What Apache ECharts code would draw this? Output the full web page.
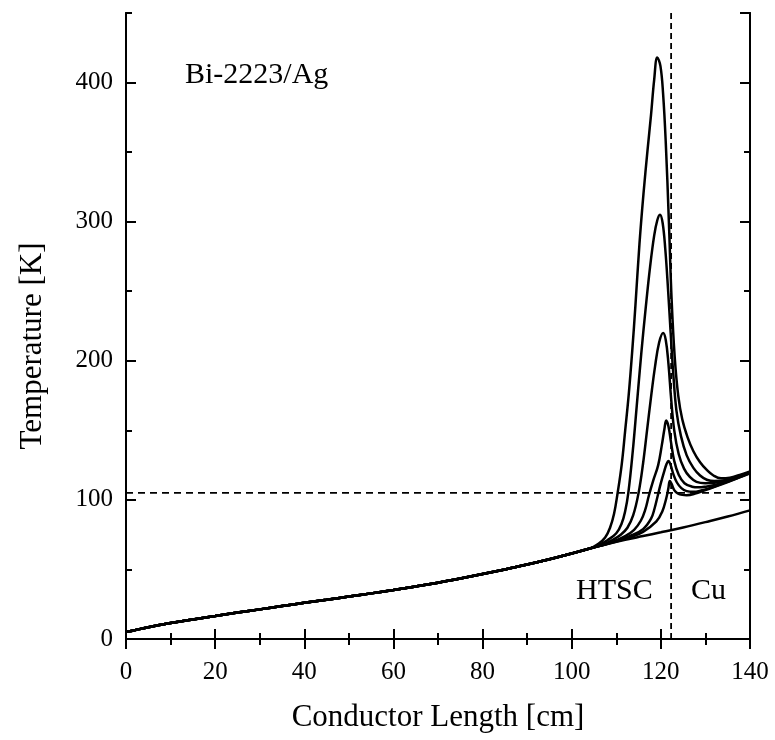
<!DOCTYPE html>
<html>
<head>
<meta charset="utf-8">
<script src="https://cdn.jsdelivr.net/npm/echarts@6/dist/echarts.min.js"></script>
<style>
html,body{margin:0;padding:0;background:#fff;}
#chart{width:775px;height:740px;}
</style>
</head>
<body>
<div id="chart"></div>
<script>
// ---- data ----
const xTicks = [0, 20, 40, 60, 80, 100, 120, 140];
const yTicks = [0, 100, 200, 300, 400];

// common part of all curves
const commonX = [0, 5, 10, 15, 20, 25, 30, 35, 40, 45, 50, 55, 60, 65, 70, 75, 80, 85, 90, 95, 100];
const commonT = [5, 8.5, 11.5, 14, 16.5, 19, 21.3, 23.7, 26, 28.2, 30.5, 32.8, 35.2, 37.8, 40.5, 43.5, 46.7, 50, 53.5, 57.3, 61.5];

// lowest curve (no quench peak)
const lowX = [104, 108, 112, 116, 120, 125, 130, 135, 140];
const lowT = [65, 68.3, 71.3, 74, 76.7, 80.2, 84, 88, 92.5];

// peaked curves
const c1X = [104, 106, 107.5, 108.6, 109.5, 110.3, 111.2, 112, 112.8, 113.6, 114.3, 115.2, 116.1, 117, 117.8, 118.5, 119.2, 119.9, 120.5, 121.1, 121.8, 122.4, 123.1, 123.9, 124.8, 126, 127.3, 128.8, 130.3, 131.8, 133.5, 135.5, 137.7, 140];
const c1T = [65, 68.5, 73, 80, 90, 105, 125, 150, 176, 208, 240, 284, 320, 351, 377, 402, 418, 412, 392, 357, 300, 245, 203, 175, 158, 145, 135, 127, 121.5, 117.5, 115.5, 116, 118, 120.5];

const c2X = [104, 106, 108, 110, 111.2, 112, 112.7, 113.7, 114.6, 115.6, 116.6, 117.6, 118.5, 119.2, 119.8, 120.4, 121, 121.6, 122.2, 122.8, 123.5, 124.5, 125.8, 127.3, 128.8, 130.3, 132, 135, 137.5, 140];
const c2T = [65, 67.5, 71, 76, 83, 92, 105, 135, 168, 205, 238, 268, 290, 301, 305, 299, 280, 252, 220, 190, 164, 146, 132, 123, 117.5, 114.5, 113.5, 114.5, 117, 120];

const c3X = [104, 107, 109, 111, 112.5, 113.8, 115, 116, 116.9, 117.8, 118.7, 119.6, 120.5, 121.1, 121.7, 122.3, 123, 124, 125.2, 126.5, 128, 130, 132, 135, 137.5, 140];
const c3T = [65, 68, 71, 75, 80, 89, 105, 126, 150, 174, 196, 213, 220, 215, 198, 173, 150, 133, 122.5, 116.5, 113, 112, 112.3, 114, 117, 120];

const c4X = [104, 108, 110, 112, 114, 115.5, 116.5, 117.3, 118.3, 119.4, 120.2, 120.8, 121.2, 121.7, 122.3, 123, 124, 125.3, 127, 128.5, 130, 132.5, 135, 137.5, 140];
const c4T = [65, 68.5, 71, 74, 78.5, 85, 93, 103, 114, 125, 139, 151, 157, 153, 141, 128, 118, 112, 109.5, 109, 109.5, 111, 113.5, 116.5, 119.5];

const c5X = [104, 110, 113, 116, 117.8, 118.6, 119.3, 120, 120.8, 121.3, 121.7, 122.2, 122.8, 123.6, 124.6, 125.8, 127.3, 129, 131.5, 134, 137, 140];
const c5T = [65, 70.5, 74, 79, 86.5, 94, 103, 112, 121, 126, 128, 125, 118.5, 112.5, 108.5, 106.3, 105.8, 106.7, 109, 112, 115.5, 119.5];

const c6X = [104, 110, 113, 116, 119, 120.3, 121.2, 121.7, 122, 122.4, 123, 123.8, 124.8, 125.8, 127.5, 130, 133, 136, 140];
const c6T = [65, 70, 73, 77, 84.5, 91.5, 101, 108.5, 113.5, 111.5, 107, 104.6, 103.6, 103.4, 104.3, 107, 110.5, 114, 119];

// reference lines
const hLineT = 105;
const vLineX = 122.3;

const xMin = 0, xMax = 140, yMin = 0, yMax = 450;

// ---- build ----
function pairs(xs, ts) { return xs.map((x, i) => [x, ts[i]]); }
const common = pairs(commonX, commonT);
const curves = [
  [lowX, lowT], [c1X, c1T], [c2X, c2T], [c3X, c3T], [c4X, c4T], [c5X, c5T], [c6X, c6T]
].map(([xs, ts]) => common.concat(pairs(xs, ts)));

const FONT = 'Liberation Serif';
const axisLineStyle = { show: true, lineStyle: { color: '#000', width: 2 } };

function xAx(pos, labels) {
  return {
    type: 'value', min: xMin, max: xMax, interval: 20, position: pos,
    axisLine: axisLineStyle,
    axisTick: { show: true, inside: true, length: 10, lineStyle: { color: '#000', width: 2 } },
    minorTick: { show: true, splitNumber: 2, length: 6, lineStyle: { color: '#000', width: 2 } },
    splitLine: { show: false }, minorSplitLine: { show: false },
    axisLabel: { show: labels, fontFamily: FONT, fontSize: 25, color: '#000', margin: 21 },
    name: labels ? 'Conductor Length [cm]' : '',
    nameLocation: 'middle', nameGap: 63,
    nameTextStyle: { fontFamily: FONT, fontSize: 31, color: '#000' }
  };
}
function yAx(pos, interval, len, labels) {
  return {
    type: 'value', min: yMin, max: yMax, interval: interval, position: pos,
    axisLine: axisLineStyle,
    axisTick: { show: true, inside: true, length: len, lineStyle: { color: '#000', width: 2 } },
    splitLine: { show: false },
    axisLabel: {
      show: labels, fontFamily: FONT, fontSize: 25, color: '#000', margin: 13,
      showMaxLabel: false,
      formatter: v => (yTicks.indexOf(v) >= 0 ? String(v) : '')
    },
    name: labels ? 'Temperature [K]' : '',
    nameLocation: 'middle', nameGap: 78,
    nameTextStyle: { fontFamily: FONT, fontSize: 31, color: '#000', padding: [0, 40, 0, 0] }
  };
}

const series = curves.map(d => ({
  type: 'line', data: d, showSymbol: false, symbol: 'none',
  smooth: 0.4,
  lineStyle: { color: '#000', width: 2.5 }, silent: true, z: 3
}));
series.push({
  type: 'line', data: [[xMin, hLineT], [xMax, hLineT]], symbol: 'none',
  lineStyle: { color: '#000', width: 1.8, type: [7, 5] }, silent: true, z: 2
});
series.push({
  type: 'line', data: [[vLineX, yMin], [vLineX, yMax]], symbol: 'none',
  lineStyle: { color: '#000', width: 1.8, type: [6, 4] }, silent: true, z: 2
});

const chart = echarts.init(document.getElementById('chart'), null, { renderer: 'canvas' });
chart.setOption({
  animation: false,
  backgroundColor: '#fff',
  grid: { left: 126, right: 25, top: 13, bottom: 101, containLabel: false },
  xAxis: [xAx('bottom', true), xAx('top', false)],
  yAxis: [yAx('left', 100, 10, true), yAx('left', 50, 6, false), yAx('right', 100, 10, false), yAx('right', 50, 6, false)],
  series: series,
  graphic: [
    { type: 'text', left: 185, top: 60, style: { text: 'Bi-2223/Ag', fontFamily: FONT, fontSize: 30, fill: '#000' } },
    { type: 'text', left: 576, top: 576, style: { text: 'HTSC', fontFamily: FONT, fontSize: 30, fill: '#000' } },
    { type: 'text', left: 691, top: 576, style: { text: 'Cu', fontFamily: FONT, fontSize: 30, fill: '#000' } }
  ]
});
</script>
</body>
</html>
